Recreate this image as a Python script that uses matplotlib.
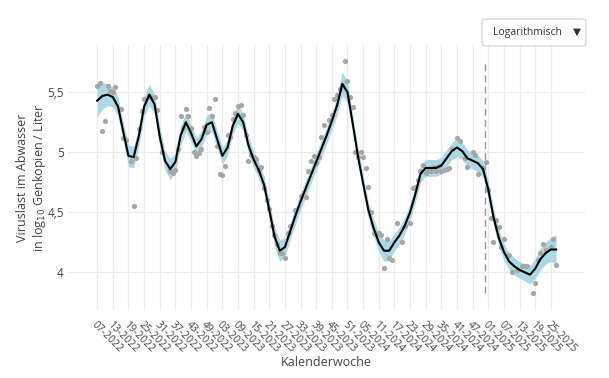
import matplotlib.pyplot as plt
from matplotlib.patches import FancyBboxPatch

plt.rcParams['font.family'] = ['Open Sans', 'DejaVu Sans']

# x = Wochen seit KW 07-2022
tick_weeks = list(range(0, 175, 6))
tick_labels = ['07-2022', '13-2022', '19-2022', '25-2022', '31-2022', '37-2022',
               '43-2022', '49-2022', '03-2023', '09-2023', '15-2023', '21-2023',
               '27-2023', '33-2023', '39-2023', '45-2023', '51-2023', '05-2024',
               '11-2024', '17-2024', '23-2024', '29-2024', '35-2024', '41-2024',
               '47-2024', '01-2025', '07-2025', '13-2025', '19-2025', '25-2025']

y_ticks = [4, 4.5, 5, 5.5]
y_tick_labels = ['4', '4,5', '5', '5,5']

# Messwerte (log10 Genkopien / Liter)
pt_week = [0, 1, 2, 3, 4, 5, 6, 7, 9, 10,
           11, 13, 14, 15, 16, 17, 18, 20, 21, 22,
           23, 25, 28, 29, 30, 31, 32, 33, 34, 35,
           36, 37, 38, 39, 40, 41, 42, 43, 44, 45,
           46, 47, 48, 49, 50, 51, 52, 53, 54, 55,
           56, 57, 58, 59, 60, 61, 62, 63, 64, 65,
           66, 67, 68, 69, 70, 71, 72, 73, 74, 76,
           78, 80, 81, 82, 83, 84, 85, 86, 87, 89,
           90, 91, 92, 93, 94, 95, 96, 97, 98, 99,
           100, 101, 102, 103, 104, 105, 106, 107, 108, 109,
           110, 111, 112, 113, 115, 117, 118, 120, 121, 122,
           123, 124, 125, 126, 127, 128, 129, 130, 131, 132,
           133, 134, 135, 136, 138, 139, 141, 142, 144, 145,
           146, 148, 149, 150, 151, 152, 153, 154, 155, 156,
           158, 159, 161, 163, 164, 165, 167, 168, 169, 170,
           171, 172, 174, 175, 176]
pt_val = [5.55, 5.58, 5.18, 5.26, 5.55, 5.51, 5.50, 5.54, 5.36, 5.12,
          5.10, 4.93, 4.555, 4.95, 5.19, 5.34, 5.44, 5.47, 5.45, 5.46,
          5.35, 5.00, 4.84, 4.825, 4.85, 5.03, 5.30, 5.20, 5.36, 5.30,
          5.20, 5.005, 4.97, 4.99, 5.03, 5.21, 5.17, 5.37, 5.30, 5.44,
          5.05, 4.82, 4.81, 4.885, 5.14, 5.13, 5.28, 5.325, 5.385, 5.39,
          5.31, 5.14, 4.93, 4.98, 4.96, 4.94, 4.85, 4.88, 4.70, 4.60,
          4.53, 4.385, 4.31, 4.24, 4.16, 4.16, 4.12, 4.33, 4.39, 4.52,
          4.64, 4.63, 4.84, 4.93, 4.97, 4.91, 4.96, 5.125, 5.23, 5.27,
          5.31, 5.44, 5.48, 5.53, 5.56, 5.76, 5.59, 5.46, 5.38, 5.005,
          4.96, 5.005, 4.96, 4.87, 4.71, 4.505, 4.325, 4.32, 4.33, 4.31,
          4.04, 4.275, 4.12, 4.10, 4.41, 4.25, 4.39, 4.41, 4.70, 4.71,
          4.77, 4.84, 4.89, 4.83, 4.84, 4.84, 4.875, 4.84, 4.885, 4.84,
          4.85, 4.86, 4.87, 5.03, 5.12, 5.09, 4.95, 4.875, 5.005, 4.98,
          4.82, 4.87, 4.92, 4.69, 4.45, 4.255, 4.44, 4.375, 4.21, 4.275,
          4.145, 4.005, 4.02, 4.05, 4.05, 4.05, 3.825, 3.91, 4.10, 4.16,
          4.24, 4.19, 4.21, 4.275, 4.06]

# geglaetteter Verlauf (alle 2 Wochen) und Konfidenzband
fit_week = list(range(0, 177, 2))
fit_val = [5.43, 5.47, 5.48, 5.46, 5.38, 5.17, 4.97, 4.96, 5.14, 5.38,
           5.48, 5.40, 5.13, 4.93, 4.86, 4.92, 5.14, 5.25, 5.16, 5.05,
           5.11, 5.23, 5.25, 5.11, 4.97, 5.04, 5.22, 5.32, 5.25, 5.06,
           4.94, 4.85, 4.73, 4.52, 4.30, 4.18, 4.21, 4.34, 4.47, 4.59,
           4.70, 4.81, 4.92, 5.03, 5.14, 5.26, 5.39, 5.57, 5.50, 5.24,
           4.97, 4.74, 4.52, 4.37, 4.25, 4.18, 4.18, 4.25, 4.31, 4.39,
           4.50, 4.65, 4.82, 4.87, 4.87, 4.87, 4.89, 4.95, 5.01, 5.04,
           5.01, 4.95, 4.93, 4.91, 4.86, 4.69, 4.46, 4.29, 4.17, 4.09,
           4.05, 4.02, 4.00, 3.98, 4.03, 4.11, 4.16, 4.19, 4.19]
fit_ci = [0.13, 0.11, 0.09, 0.08, 0.08, 0.08, 0.09, 0.09, 0.08, 0.08,
          0.09, 0.08, 0.08, 0.08, 0.09, 0.08, 0.08, 0.08, 0.07, 0.07,
          0.07, 0.08, 0.08, 0.07, 0.07, 0.07, 0.07, 0.08, 0.07, 0.07,
          0.07, 0.07, 0.07, 0.07, 0.08, 0.09, 0.08, 0.07, 0.07, 0.07,
          0.07, 0.07, 0.07, 0.07, 0.07, 0.07, 0.08, 0.10, 0.09, 0.07,
          0.07, 0.07, 0.07, 0.07, 0.08, 0.09, 0.08, 0.07, 0.07, 0.07,
          0.07, 0.07, 0.07, 0.07, 0.07, 0.07, 0.07, 0.07, 0.07, 0.08,
          0.07, 0.07, 0.07, 0.07, 0.07, 0.07, 0.07, 0.07, 0.07, 0.07,
          0.07, 0.07, 0.07, 0.08, 0.08, 0.09, 0.09, 0.10, 0.12]

marker_week = 148.7  # gestrichelte Linie

W, H = 609, 378
fig = plt.figure(figsize=(W / 100, H / 100), dpi=100)
ax = fig.add_axes([68 / W, 1 - 310 / H, (585 - 68) / W, (310 - 45) / H])

lo = [v - c for v, c in zip(fit_val, fit_ci)]
hi = [v + c for v, c in zip(fit_val, fit_ci)]
ax.fill_between(fit_week, lo, hi, color='#add8e6', lw=0, zorder=2)
ax.scatter(pt_week, pt_val, s=14, color='#a6a6a6', lw=0, zorder=3)
ax.plot(fit_week, fit_val, color='black', lw=1.5, zorder=4)
ax.vlines(marker_week, min(pt_val), max(pt_val), colors='#999999',
          linestyles=(0, (5, 3)), lw=1, zorder=1)

ax.set_xlim(-11.2, 187.1)
ax.set_ylim(3.686, 5.894)
ax.set_xticks(tick_weeks)
ax.set_xticklabels(tick_labels, rotation=-45, ha='left', va='top',
                   rotation_mode='anchor', fontsize=7.5, color='#444444')
ax.set_yticks(y_ticks)
ax.set_yticklabels(y_tick_labels, fontsize=8.5, color='#444444')
ax.tick_params(length=0)
ax.tick_params(axis='x', pad=7)
ax.tick_params(axis='y', pad=3)
ax.grid(True, color='#ebebeb', lw=0.9, zorder=0)
ax.set_axisbelow(True)
for s in ax.spines.values():
    s.set_visible(False)

fig.text(326.5 / W, 1 - 363 / H, 'Kalenderwoche', ha='center', va='center',
         fontsize=9, color='#444444')
fig.text(23 / W, 1 - 178 / H, 'Viruslast im Abwasser', ha='center', va='center',
         rotation=90, fontsize=9, color='#444444')
fig.text(40 / W, 1 - 178 / H, 'in log$_{10}$ Genkopien / Liter', ha='center',
         va='center', rotation=90, fontsize=9, color='#444444')

# Auswahlfeld oben rechts
box = FancyBboxPatch((482 / W, 1 - 46 / H), 104 / W, 27 / H,
                     boxstyle='round,pad=0,rounding_size=0.006',
                     transform=fig.transFigure, fc='white', ec='#c9d0dc', lw=0.8)
fig.add_artist(box)
fig.text(493 / W, 1 - 32.5 / H, 'Logarithmisch', ha='left', va='center',
         fontsize=7.5, color='#333333')
fig.text(577 / W, 1 - 32 / H, '▼', ha='center', va='center',
         fontsize=7.5, color='#333333', family=['DejaVu Sans'])

fig.savefig('out.png', dpi=100)
